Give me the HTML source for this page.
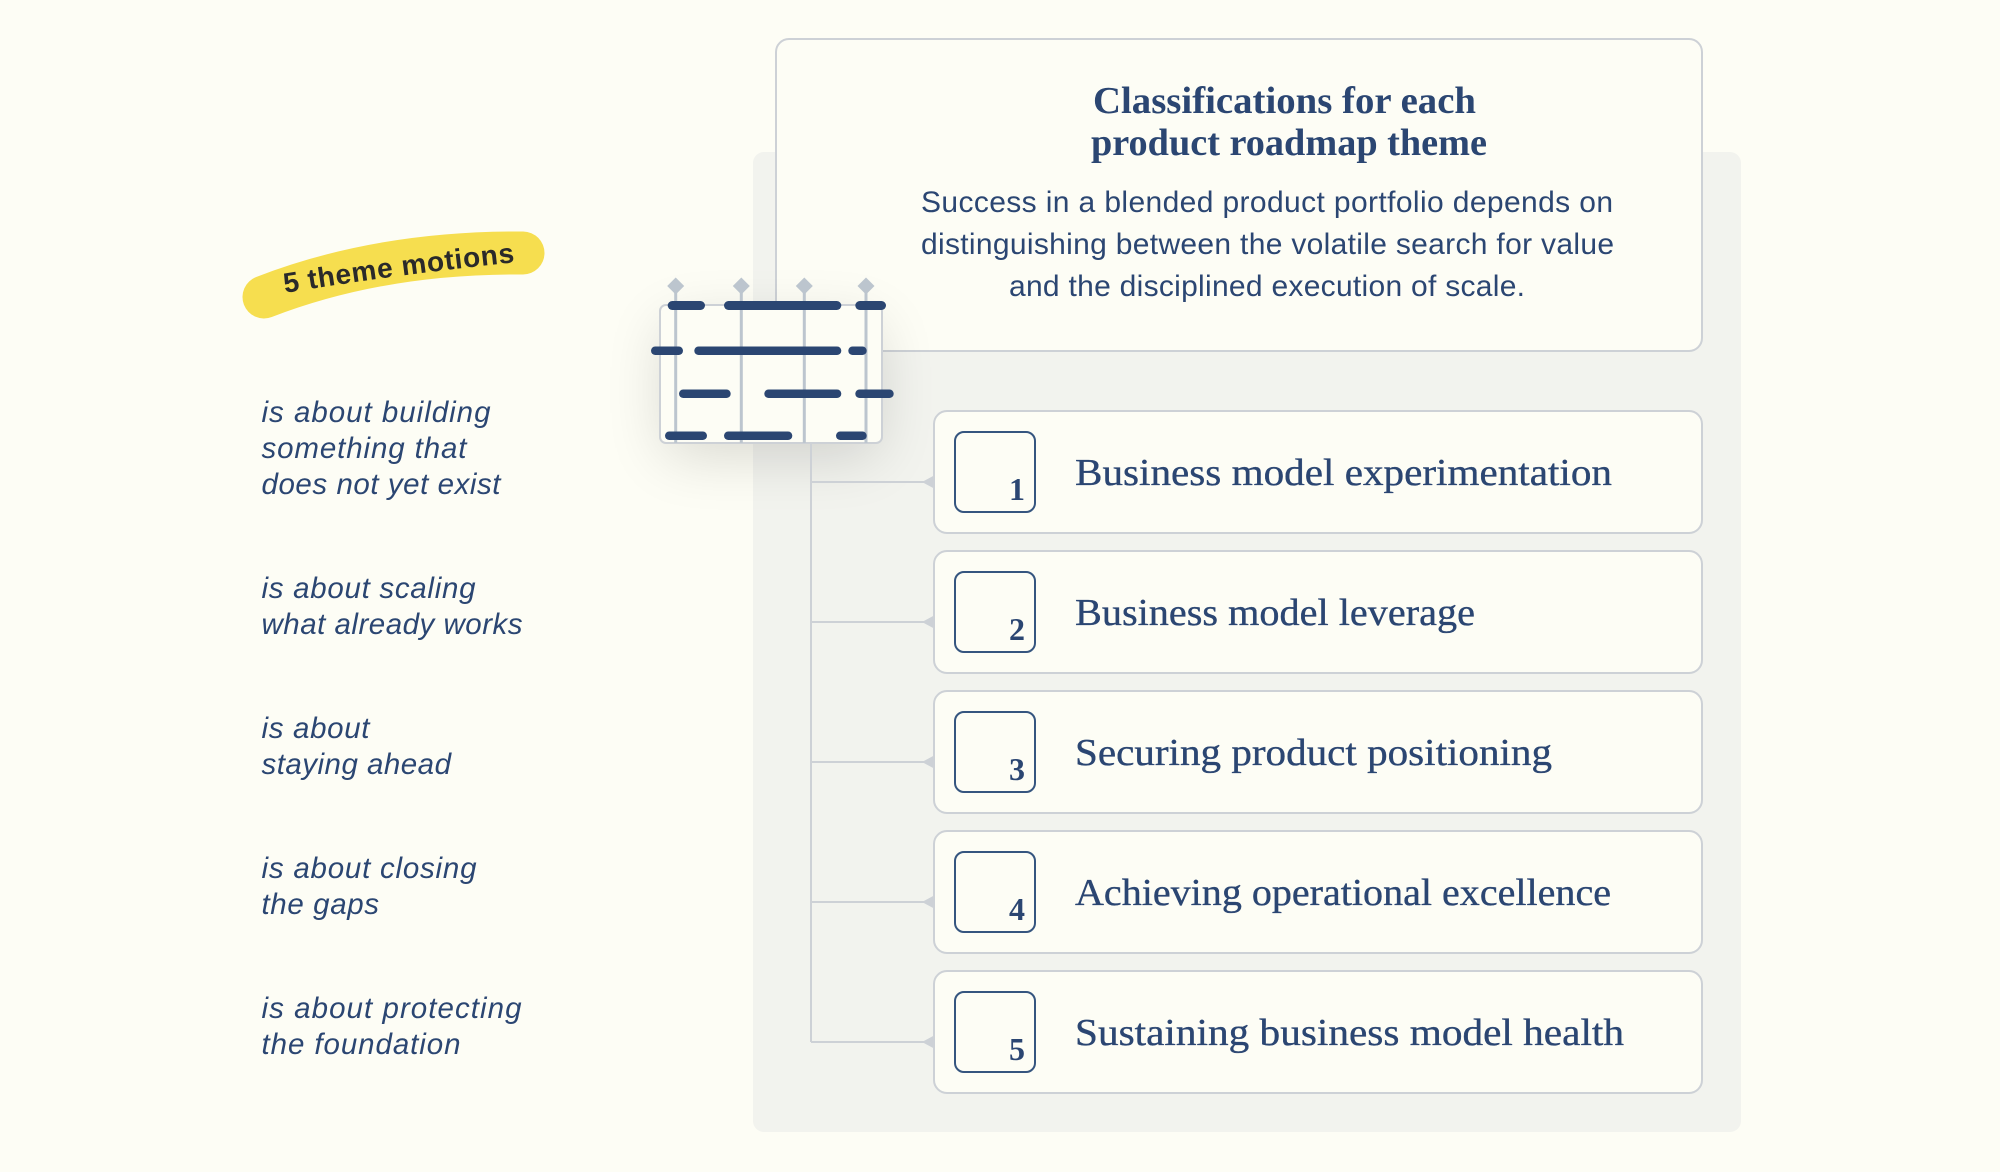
<!DOCTYPE html>
<html>
<head>
<meta charset="utf-8">
<style>
html,body{margin:0;padding:0;background:#fdfdf5;width:2000px;height:1172px;overflow:hidden}
svg{display:block}
.it{font-family:"Liberation Sans",sans-serif;font-style:italic;font-size:29.5px;fill:#2b4672}
.p{font-family:"Liberation Sans",sans-serif;font-size:30px;fill:#2b4672}
.h{font-family:"Liberation Serif",serif;font-weight:bold;font-size:38px;fill:#2b4672}
.t{font-family:"Liberation Serif",serif;font-size:38px;fill:#2b4672;stroke:#2b4672;stroke-width:.35}
.n{font-family:"Liberation Serif",serif;font-weight:bold;font-size:32px;fill:#2b4672;text-anchor:end}
.c{fill:#fdfdf5;stroke:#cdd1d6;stroke-width:2}
.b{fill:#fdfdf5;stroke:#35557f;stroke-width:2}
.l{stroke:#cdd1d6;stroke-width:2;fill:none}
.a{fill:#cdd1d6}
.v{stroke:#bcc5ce;stroke-width:3}
.d{fill:#bcc5ce}
.k{fill:#2b4672}
</style>
</head>
<body>
<svg width="2000" height="1172" viewBox="0 0 2000 1172" xmlns="http://www.w3.org/2000/svg">
<defs>
<filter id="s" x="-60%" y="-80%" width="220%" height="260%"><feGaussianBlur stdDeviation="30"/></filter>
<path id="tp" d="M285 293 Q400 274 518 262"/>
</defs>
<rect width="2000" height="1172" fill="#fdfdf5"/>
<rect x="753" y="152" width="988" height="980" rx="11" fill="#f2f3ee"/>
<rect class="c" x="776" y="39" width="926" height="312" rx="13"/>

<text class="h" x="1093" y="113" textLength="383" lengthAdjust="spacingAndGlyphs">Classifications for each</text>
<text class="h" x="1091" y="155" textLength="396" lengthAdjust="spacingAndGlyphs">product roadmap theme</text>
<text class="p" x="921" y="212" textLength="692">Success in a blended product portfolio depends on</text>
<text class="p" x="921" y="254" textLength="693">distinguishing between the volatile search for value</text>
<text class="p" x="1009" y="296" textLength="516">and the disciplined execution of scale.</text>

<rect class="c" x="934" y="411" width="768" height="122" rx="13"/>
<rect class="c" x="934" y="551" width="768" height="122" rx="13"/>
<rect class="c" x="934" y="691" width="768" height="122" rx="13"/>
<rect class="c" x="934" y="831" width="768" height="122" rx="13"/>
<rect class="c" x="934" y="971" width="768" height="122" rx="13"/>

<rect class="b" x="955" y="432" width="80" height="80" rx="9"/>
<rect class="b" x="955" y="572" width="80" height="80" rx="9"/>
<rect class="b" x="955" y="712" width="80" height="80" rx="9"/>
<rect class="b" x="955" y="852" width="80" height="80" rx="9"/>
<rect class="b" x="955" y="992" width="80" height="80" rx="9"/>

<text class="n" x="1025" y="500">1</text>
<text class="n" x="1025" y="640">2</text>
<text class="n" x="1025" y="780">3</text>
<text class="n" x="1025" y="920">4</text>
<text class="n" x="1025" y="1060">5</text>

<text class="t" x="1075" y="485" textLength="537" lengthAdjust="spacingAndGlyphs">Business model experimentation</text>
<text class="t" x="1075" y="625" textLength="400" lengthAdjust="spacingAndGlyphs">Business model leverage</text>
<text class="t" x="1075" y="765" textLength="477" lengthAdjust="spacingAndGlyphs">Securing product positioning</text>
<text class="t" x="1075" y="905" textLength="536" lengthAdjust="spacingAndGlyphs">Achieving operational excellence</text>
<text class="t" x="1075" y="1045" textLength="549" lengthAdjust="spacingAndGlyphs">Sustaining business model health</text>

<!-- table shadow -->
<rect x="665" y="325" width="212" height="130" fill="#000" opacity=".15" filter="url(#s)"/>

<path class="l" d="M811 440V1042M811 482H925M811 622H925M811 762H925M811 902H925M811 1042H925"/>
<path class="a" d="M922 482L935 475V489Z M922 622L935 615V629Z M922 762L935 755V769Z M922 902L935 895V909Z M922 1042L935 1035V1049Z"/>

<rect x="660" y="305" width="222" height="138" rx="6" fill="#fdfdf5" stroke="#cdd1d6" stroke-width="2"/>
<path class="v" d="M675.7 286V443M741.3 286V443M804.3 286V443M866 286V443"/>
<path class="d" d="M675.7 277.5l8.5 8.5-8.5 8.5-8.5-8.5Z M741.3 277.5l8.5 8.5-8.5 8.5-8.5-8.5Z M804.3 277.5l8.5 8.5-8.5 8.5-8.5-8.5Z M866 277.5l8.5 8.5-8.5 8.5-8.5-8.5Z"/>
<rect class="k" x="667.7" y="301" width="37.3" height="9" rx="4.5"/>
<rect class="k" x="724" y="301" width="117.3" height="9" rx="4.5"/>
<rect class="k" x="855.3" y="301" width="30.7" height="9" rx="4.5"/>
<rect class="k" x="651" y="346.5" width="32" height="8.5" rx="4.2"/>
<rect class="k" x="694.3" y="346.5" width="147" height="8.5" rx="4.2"/>
<rect class="k" x="848.3" y="346.5" width="18.4" height="8.5" rx="4.2"/>
<rect class="k" x="679" y="389.5" width="51.7" height="8.5" rx="4.2"/>
<rect class="k" x="764.3" y="389.5" width="77" height="8.5" rx="4.2"/>
<rect class="k" x="855.3" y="389.5" width="38.4" height="8.5" rx="4.2"/>
<rect class="k" x="665" y="431.5" width="42" height="8.5" rx="4.2"/>
<rect class="k" x="724" y="431.5" width="68.3" height="8.5" rx="4.2"/>
<rect class="k" x="836" y="431.5" width="30.7" height="8.5" rx="4.2"/>

<!-- highlight -->
<path d="M264 297 Q380 252 523 253" fill="none" stroke="#f6de4f" stroke-width="43" stroke-linecap="round"/>
<text font-family="Liberation Sans, sans-serif" font-weight="bold" font-size="28" fill="#2a2a2a"><textPath href="#tp" textLength="232">5 theme motions</textPath></text>

<!-- left descriptions -->
<text class="it" x="261.5" y="422" textLength="229">is about building</text>
<text class="it" x="261.5" y="458" textLength="205">something that</text>
<text class="it" x="261.5" y="494" textLength="239">does not yet exist</text>
<text class="it" x="261.5" y="598" textLength="214">is about scaling</text>
<text class="it" x="261.5" y="634" textLength="261">what already works</text>
<text class="it" x="261.5" y="738" textLength="108">is about</text>
<text class="it" x="261.5" y="774" textLength="189.5">staying ahead</text>
<text class="it" x="261.5" y="878" textLength="215">is about closing</text>
<text class="it" x="261.5" y="914" textLength="117.5">the gaps</text>
<text class="it" x="261.5" y="1018" textLength="260">is about protecting</text>
<text class="it" x="261.5" y="1054" textLength="199">the foundation</text>
</svg>
</body>
</html>
